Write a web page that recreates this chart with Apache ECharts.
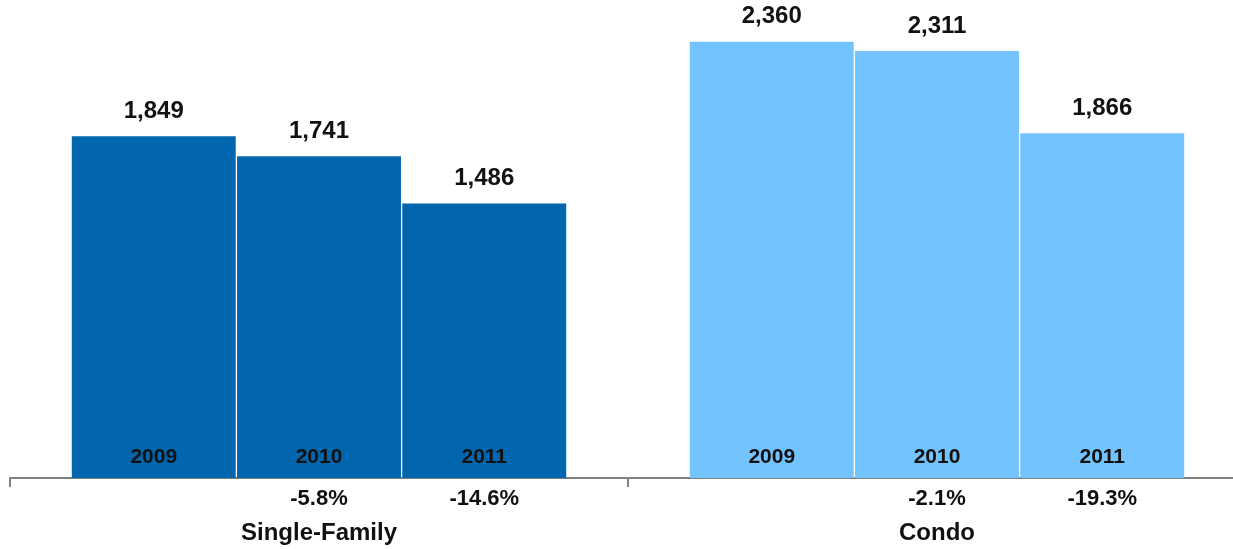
<!DOCTYPE html>
<html>
<head>
<meta charset="utf-8">
<script src="https://cdn.jsdelivr.net/npm/echarts@6/dist/echarts.min.js"></script>
<style>html,body{margin:0;padding:0;background:#fff;overflow:hidden}#c{width:1246px;height:549px}</style>
</head>
<body>
<div id="c"></div>
<script>
const categories = ['Single-Family', 'Condo'];
const years = ['2009', '2010', '2011'];
const sales2009 = [1849, 2360];
const sales2010 = [1741, 2311];
const sales2011 = [1486, 1866];
const pct2009 = ['', ''];
const pct2010 = ['-5.8%', '-2.1%'];
const pct2011 = ['-14.6%', '-19.3%'];
const groupColors = ['#0266AE', '#73C4FE'];

const FONT = '"Liberation Sans", Arial, Helvetica, sans-serif';
const valuesByYear = [sales2009, sales2010, sales2011];
const pctByYear = [pct2009, pct2010, pct2011];

const series = [];
years.forEach((yr, i) => {
  series.push({
    type: 'bar', name: yr + '-base', stack: 's' + yr,
    barGap: '0.8%', barCategoryGap: '20%',
    data: categories.map(() => 0),
    itemStyle: { color: 'transparent' },
    label: {
      show: true, position: 'inside',
      formatter: p => '{y|' + yr + '}\n{p|' + (pctByYear[i][p.dataIndex] || ' ') + '}',
      rich: {
        y: { fontFamily: FONT, fontWeight: 'bold', fontSize: 21, color: '#111', lineHeight: 41, align: 'center' },
        p: { fontFamily: FONT, fontWeight: 'bold', fontSize: 22, color: '#111', lineHeight: 41, align: 'center' }
      }
    },
    silent: true, z: 3
  });
  series.push({
    type: 'bar', name: yr, stack: 's' + yr,
    barGap: '0.8%', barCategoryGap: '20%',
    data: valuesByYear[i].map((v, k) => ({ value: v, itemStyle: { color: groupColors[k] } })),
    label: {
      show: true, position: 'top', distance: 13,
      fontFamily: FONT, fontWeight: 'bold', fontSize: 24, color: '#111',
      formatter: p => p.value.toLocaleString('en-US')
    },
    z: 2
  });
});

const chart = echarts.init(document.getElementById('c'), null, { renderer: 'canvas' });
chart.setOption({
  animation: false,
  grid: { left: 10, right: 0, top: 16, bottom: 71, containLabel: false },
  xAxis: {
    type: 'category', data: categories,
    axisLine: { lineStyle: { color: '#808080', width: 2 } },
    axisTick: { show: true, length: 9, lineStyle: { color: '#808080', width: 2 } },
    axisLabel: { fontFamily: FONT, fontWeight: 'bold', fontSize: 24, color: '#111', margin: 43 }
  },
  yAxis: { type: 'value', min: 0, max: 2500, show: false, splitLine: { show: false } },
  series: series
});
</script>
</body>
</html>
